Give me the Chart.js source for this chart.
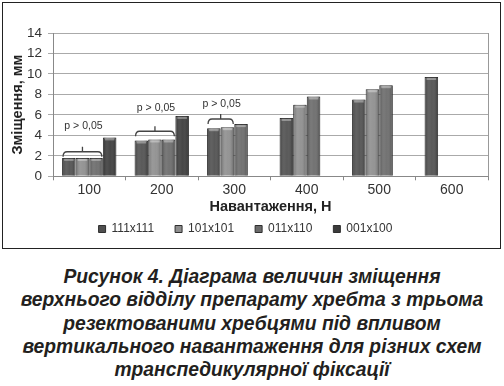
<!DOCTYPE html>
<html>
<head>
<meta charset="utf-8">
<script src="https://cdn.jsdelivr.net/npm/chart.js@4.4.1/dist/chart.umd.min.js"></script>
<style>
  body { margin: 0; background: #fff; width: 504px; height: 386px; position: relative; overflow: hidden; }
  .ramka { position: absolute; left: 2px; top: 2px; width: 499px; height: 247px; box-sizing: border-box; border: 1px solid #222; }
  #grafik { position: absolute; left: 3px; top: 3px; }
  .pidpys {
    position: absolute; left: 0; top: 265px; width: 504px; text-align: center;
    font: italic bold 19.3px "Liberation Sans", Arial, sans-serif; line-height: 23.3px; color: #231f20;
  }
</style>
</head>
<body>
<div class="ramka"></div>
<canvas id="grafik" width="497" height="245"></canvas>
<div class="pidpys">
  Рисунок 4. Діаграма величин зміщення<br>
  верхнього відділу препарату хребта з трьома<br>
  резектованими хребцями під впливом<br>
  вертикального навантаження для різних схем<br>
  транспедикулярної фіксації
</div>
<script>
const navantazhennya = ['100', '200', '300', '400', '500', '600'];
const nazvy = ['111x111', '101x101', '011x110', '001x100'];
const s111 = [1.8, 3.5, 4.7, 5.7, 7.5, 9.7];
const s101 = [1.8, 3.6, 4.8, 7.0, 8.5, null];
const s011 = [1.8, 3.6, 5.1, 7.8, 8.9, null];
const s001 = [3.8, 5.9, null, null, null, null];
const kolory = ['#4f4f4f', '#8e8e8e', '#6a6a6a', '#3b3b3b'];

// дужки "p > 0,05": група, остання серія під дужкою, рівень дужки, рівень підпису
const pTekst = 'p > 0,05';
const dugaGrupa = [0, 1, 2];
const dugaDo = [2, 2, 1];
const dugaRiven = [2.4, 4.4, 5.6];
const pRiven = [4.9, 6.7, 7.1];

const ctxGrafik = document.getElementById('grafik');

/* об'ємне затінення стовпчиків */
const tin = {
    id: 'tin',
    afterDatasetsDraw(chart) {
        const ctx = chart.ctx;
        chart.data.datasets.forEach((ds, d) => {
            chart.getDatasetMeta(d).data.forEach((el, i) => {
                if (ds.data[i] === null) return;
                const {x, y, base, width} = el.getProps(['x', 'y', 'base', 'width'], true);
                const x0 = x - width / 2;
                const g = ctx.createLinearGradient(x0, 0, x0 + width, 0);
                g.addColorStop(0, 'rgba(0,0,0,0.28)');
                g.addColorStop(0.35, 'rgba(255,255,255,0.10)');
                g.addColorStop(0.55, 'rgba(255,255,255,0.06)');
                g.addColorStop(1, 'rgba(0,0,0,0.32)');
                ctx.save();
                ctx.fillStyle = g;
                ctx.fillRect(x0 + 1, y, width - 2, base - y);
                // світла смужка зверху
                ctx.fillStyle = 'rgba(255,255,255,0.35)';
                ctx.fillRect(x0 + 2, y + 1, width - 4, 2);
                ctx.restore();
            });
        });
    }
};

/* дужки з підписами і права межа поля */
const dugy = {
    id: 'dugy',
    afterDraw(chart) {
        const ctx = chart.ctx;
        const yS = chart.scales.y;
        const area = chart.chartArea;
        ctx.save();
        ctx.strokeStyle = '#999';
        ctx.lineWidth = 1;
        ctx.beginPath();
        ctx.moveTo(area.right + 0.5, area.top);
        ctx.lineTo(area.right + 0.5, area.bottom);
        ctx.stroke();

        ctx.strokeStyle = '#444';
        ctx.lineWidth = 1.3;
        ctx.fillStyle = '#333';
        ctx.font = '10.5px "Liberation Sans", Arial, sans-serif';
        ctx.textAlign = 'center';
        ctx.textBaseline = 'middle';
        dugaGrupa.forEach((g, k) => {
            const a = chart.getDatasetMeta(0).data[g];
            const b = chart.getDatasetMeta(dugaDo[k]).data[g];
            const x0 = a.x - a.width / 2 + 1;
            const x1 = b.x + b.width / 2 - 1;
            const xc = (x0 + x1) / 2;
            const yb = yS.getPixelForValue(dugaRiven[k]);
            ctx.beginPath();
            ctx.moveTo(x0, yb + 5);
            ctx.quadraticCurveTo(x0, yb, x0 + 4, yb);
            ctx.lineTo(x1 - 4, yb);
            ctx.quadraticCurveTo(x1, yb, x1, yb + 5);
            ctx.moveTo(xc, yb);
            ctx.lineTo(xc, yb - 5);
            ctx.stroke();
            ctx.fillText(pTekst, xc + 1, yS.getPixelForValue(pRiven[k]));
        });
        ctx.restore();
    }
};

new Chart(ctxGrafik, {
    type: 'bar',
    data: {
        labels: navantazhennya,
        datasets: [s111, s101, s011, s001].map((s, i) => ({
            label: nazvy[i],
            data: s,
            backgroundColor: kolory[i],
            borderColor: '#2e2e2e',
            borderWidth: 1,
            categoryPercentage: 0.75,
            barPercentage: 1.0
        }))
    },
    options: {
        responsive: false,
        animation: false,
        layout: {
            padding: { left: 0, right: 12, top: 30, bottom: 3 }
        },
        scales: {
            x: {
                afterFit: (s) => { s.height = 25.7; },
                grid: {
                    display: true,
                    drawOnChartArea: false,
                    drawTicks: true,
                    tickLength: 4,
                    color: '#888',
                    offset: true
                },
                border: { color: '#888' },
                ticks: {
                    color: '#333',
                    padding: 1,
                    font: { family: '"Liberation Sans", Arial, sans-serif', size: 14 }
                },
                title: {
                    display: true,
                    text: 'Навантаження, Н',
                    color: '#222',
                    padding: { top: 0, bottom: -13.4 },
                    font: { family: '"Liberation Sans", Arial, sans-serif', size: 14.5, weight: 'bold' }
                }
            },
            y: {
                min: 0,
                max: 14,
                afterFit: (s) => { s.width = 50; },
                grid: {
                    color: '#aaaaaa',
                    tickLength: 5
                },
                border: { color: '#888' },
                ticks: {
                    stepSize: 2,
                    color: '#333',
                    padding: 6,
                    font: { family: '"Liberation Sans", Arial, sans-serif', size: 13.5 }
                },
                title: {
                    display: true,
                    text: 'Зміщення, мм',
                    color: '#222',
                    padding: { top: 6, bottom: 0 },
                    font: { family: '"Liberation Sans", Arial, sans-serif', size: 14.5, weight: 'bold' }
                }
            }
        },
        plugins: {
            legend: {
                position: 'bottom',
                labels: {
                    boxWidth: 7,
                    boxHeight: 7,
                    padding: 21,
                    color: '#333',
                    font: { family: '"Liberation Sans", Arial, sans-serif', size: 12 }
                }
            },
            tooltip: { enabled: false }
        }
    },
    plugins: [tin, dugy]
});
</script>
</body>
</html>
